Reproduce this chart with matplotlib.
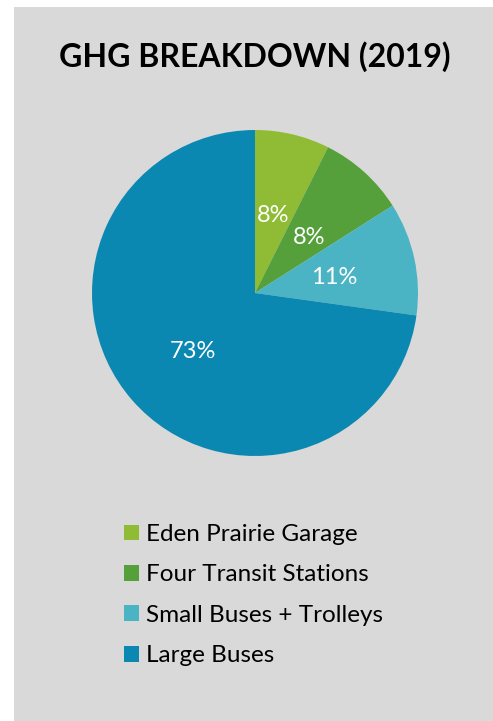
import matplotlib.pyplot as plt
from matplotlib.patches import Rectangle

plt.rcParams['font.family'] = ['Lato', 'DejaVu Sans']

categorias = ['Eden Prairie Garage', 'Four Transit Stations', 'Small Buses + Trolleys', 'Large Buses']
valores = [7.4, 8.6, 11.2, 72.8]
rotulos = ['8%', '8%', '11%', '73%']
cores = ['#8FBB35', '#56A03C', '#4AB4C5', '#0B88B2']

W, H = 493, 721
fig = plt.figure(figsize=(W / 100, H / 100), dpi=100, facecolor='white')

# painel cinza
fig.patches.append(Rectangle((14 / W, 0), 1 - 14 / W, 1 - 7 / H, transform=fig.transFigure,
                             facecolor='#D9D9D9', edgecolor='none', zorder=-5))

fig.text(255 / W, 1 - 57 / H, 'GHG BREAKDOWN (2019)', ha='center', va='center',
         fontsize=23, fontweight='bold', color='black', zorder=3)

# pizza
cx, cy, r = 255, 293, 163
ax = fig.add_axes([(cx - r) / W, 1 - (cy + r) / H, 2 * r / W, 2 * r / H])
ax.set_zorder(1)
ax.set_facecolor('none')
fatias, _ = ax.pie(valores, colors=cores, startangle=90, counterclock=False,
                   wedgeprops=dict(linewidth=0))
ax.set_aspect('equal')
ax.set_xlim(-1, 1)
ax.set_ylim(-1, 1)
ax.axis('off')

# posições dos rótulos (px)
pos_rotulos = [(273, 215), (309, 237), (334, 277), (193, 351)]
for (px, py), txt in zip(pos_rotulos, rotulos):
    fig.text(px / W, 1 - py / H, txt, ha='center', va='center', fontsize=17,
             color='white', zorder=3)

leg = fig.legend(fatias, categorias, loc='upper left', bbox_to_anchor=(124 / W, 1 - 524 / H),
                 frameon=False, fontsize=17.5, handlelength=0.62, handleheight=0.62,
                 handletextpad=0.29, labelspacing=0.8, borderpad=0, borderaxespad=0)
leg.set_zorder(3)

fig.savefig('out.png', dpi=100, facecolor=fig.get_facecolor())
